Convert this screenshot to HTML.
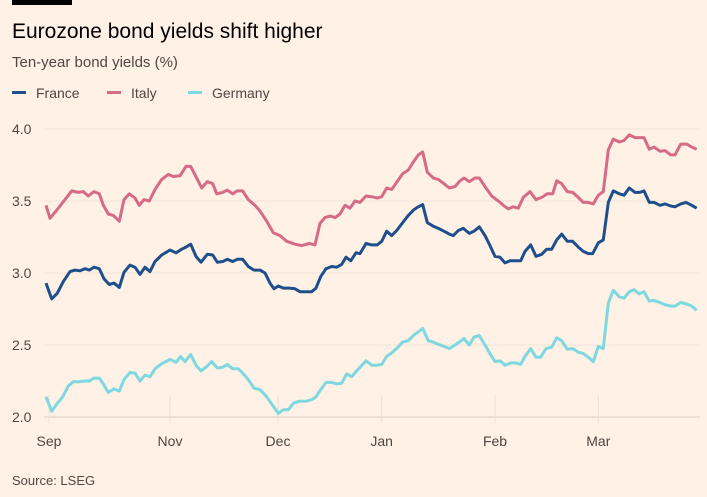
<!DOCTYPE html>
<html><head><meta charset="utf-8"><style>
html,body{margin:0;padding:0;background:#fff1e5;}
body{width:707px;height:492px;overflow:hidden;position:relative;font-family:"Liberation Sans",sans-serif;}
</style></head><body>
<svg width="707" height="492" viewBox="0 0 707 492" id="chart">
<rect x="0" y="0" width="707" height="492" fill="#fff1e5"/>
<rect x="12" y="0" width="60" height="5" fill="#000"/>
<text x="12" y="38" font-size="21" fill="#000">Eurozone bond yields shift higher</text>
<text x="12" y="67" font-size="15" fill="#4d4843">Ten-year bond yields (%)</text>
<g font-size="14" fill="#4d4843">
<g><rect x="12" y="91" width="14" height="3" fill="#1e4f8c"/><text x="36" y="98">France</text></g>
<g><rect x="107" y="91" width="14" height="3" fill="#d66b87"/><text x="131" y="98">Italy</text></g>
<g><rect x="188" y="91" width="14" height="3" fill="#7dd8e0"/><text x="212" y="98">Germany</text></g>
</g>
<g id="grid"></g><g id="lines"></g>
<text x="12" y="485" font-size="13" fill="#4d4843">Source: LSEG</text>
</svg>
<script>
const yTicks=[2.0,2.5,3.0,3.5,4.0];
const xTickLabels=["Sep","Nov","Dec","Jan","Feb","Mar"];
const xTickT=[147,510,834,1145,1485,1795];
const franceT=[138,155,172,190,210,225,240,255,268,282,298,312,328,342,358,372,390,405,420,435,450,465,485,510,528,545,558,572,588,603,622,638,652,668,682,698,712,728,745,762,780,795,810,822,835,850,868,885,900,920,935,948,962,978,995,1010,1025,1038,1052,1068,1080,1098,1115,1132,1145,1160,1175,1190,1208,1225,1242,1255,1268,1282,1300,1315,1332,1348,1360,1375,1390,1408,1422,1438,1455,1470,1485,1500,1515,1530,1545,1562,1575,1592,1608,1625,1640,1655,1670,1685,1702,1718,1735,1750,1765,1778,1795,1810,1825,1840,1858,1872,1888,1905,1920,1932,1948,1962,1980,1995,2012,2025,2042,2058,2075,2090];
const franceV=[2.93,2.82,2.86,2.94,3.01,3.02,3.015,3.03,3.02,3.04,3.03,2.96,2.92,2.93,2.90,3.005,3.055,3.04,2.99,3.04,3.01,3.08,3.125,3.16,3.14,3.165,3.18,3.20,3.115,3.075,3.13,3.125,3.075,3.08,3.095,3.08,3.095,3.095,3.045,3.02,3.02,3.00,2.93,2.89,2.91,2.895,2.895,2.89,2.87,2.87,2.87,2.895,2.975,3.03,3.045,3.04,3.06,3.11,3.085,3.14,3.135,3.205,3.195,3.195,3.22,3.29,3.26,3.295,3.35,3.40,3.44,3.46,3.475,3.35,3.325,3.31,3.29,3.27,3.26,3.295,3.31,3.275,3.29,3.32,3.26,3.19,3.115,3.11,3.07,3.085,3.085,3.085,3.15,3.195,3.115,3.13,3.165,3.165,3.23,3.27,3.22,3.22,3.18,3.15,3.135,3.135,3.21,3.23,3.49,3.57,3.55,3.54,3.59,3.56,3.56,3.57,3.49,3.49,3.47,3.48,3.465,3.46,3.48,3.49,3.47,3.45];
const italyT=[138,150,175,195,215,235,250,265,282,298,310,325,340,358,372,388,405,418,432,448,465,485,505,520,540,558,572,590,605,622,638,650,668,682,698,712,728,745,765,780,800,820,840,860,885,905,928,945,960,975,990,1005,1020,1035,1050,1065,1080,1098,1115,1132,1145,1160,1175,1190,1208,1225,1240,1255,1268,1282,1300,1315,1332,1348,1365,1380,1392,1408,1425,1438,1455,1475,1495,1510,1525,1540,1555,1570,1590,1608,1625,1642,1658,1670,1685,1702,1718,1735,1750,1765,1780,1795,1810,1825,1840,1858,1872,1888,1905,1920,1932,1948,1962,1980,1995,2012,2025,2042,2060,2075,2090];
const italyV=[3.47,3.38,3.45,3.51,3.57,3.56,3.565,3.535,3.565,3.55,3.47,3.41,3.40,3.36,3.51,3.55,3.52,3.47,3.51,3.50,3.58,3.65,3.685,3.67,3.675,3.74,3.74,3.66,3.59,3.635,3.62,3.55,3.56,3.575,3.55,3.57,3.57,3.51,3.47,3.43,3.36,3.28,3.26,3.22,3.20,3.19,3.205,3.195,3.345,3.385,3.395,3.385,3.41,3.47,3.45,3.50,3.49,3.535,3.53,3.52,3.53,3.59,3.58,3.63,3.69,3.715,3.77,3.82,3.84,3.70,3.66,3.65,3.62,3.59,3.60,3.64,3.66,3.635,3.66,3.66,3.60,3.535,3.50,3.47,3.445,3.46,3.45,3.525,3.565,3.51,3.525,3.55,3.55,3.64,3.62,3.565,3.56,3.525,3.49,3.49,3.48,3.54,3.565,3.855,3.93,3.91,3.92,3.96,3.94,3.94,3.94,3.86,3.875,3.845,3.85,3.82,3.82,3.895,3.895,3.875,3.86];
const germanyT=[138,155,172,188,205,220,240,255,268,282,298,310,325,342,358,372,390,405,420,435,450,465,485,510,528,542,555,572,588,603,620,635,652,668,682,698,715,728,745,762,780,800,818,835,850,865,880,898,918,935,948,962,978,995,1010,1025,1040,1055,1070,1098,1115,1132,1145,1160,1175,1192,1208,1225,1242,1255,1268,1285,1300,1315,1332,1348,1362,1378,1392,1408,1422,1438,1455,1470,1485,1500,1515,1532,1548,1562,1575,1592,1608,1622,1638,1655,1670,1685,1702,1718,1735,1750,1765,1780,1795,1810,1825,1840,1858,1872,1888,1902,1918,1932,1948,1962,1980,1995,2012,2025,2042,2060,2075,2090];
const germanyV=[2.14,2.04,2.095,2.14,2.215,2.245,2.245,2.25,2.25,2.27,2.27,2.23,2.17,2.195,2.18,2.26,2.31,2.305,2.25,2.29,2.28,2.335,2.37,2.40,2.38,2.42,2.385,2.435,2.36,2.32,2.35,2.385,2.34,2.345,2.365,2.335,2.335,2.305,2.26,2.20,2.19,2.14,2.08,2.025,2.05,2.05,2.095,2.11,2.11,2.12,2.14,2.19,2.24,2.24,2.23,2.235,2.30,2.28,2.32,2.39,2.36,2.36,2.365,2.42,2.445,2.48,2.52,2.53,2.57,2.59,2.615,2.53,2.52,2.505,2.49,2.475,2.495,2.52,2.545,2.50,2.555,2.565,2.50,2.44,2.385,2.39,2.36,2.375,2.375,2.365,2.42,2.475,2.415,2.415,2.475,2.485,2.55,2.53,2.47,2.475,2.45,2.44,2.415,2.385,2.49,2.475,2.79,2.88,2.835,2.825,2.87,2.885,2.855,2.87,2.805,2.81,2.795,2.78,2.77,2.77,2.795,2.785,2.77,2.74];

const NS="http://www.w3.org/2000/svg";
function xS(t){return t/3;}
function yS(v){return 129+(4-v)*144;}
const grid=document.getElementById('grid'),lines=document.getElementById('lines');
yTicks.forEach(v=>{
  const l=document.createElementNS(NS,'line');
  l.setAttribute('x1',44);l.setAttribute('x2',700);l.setAttribute('y1',yS(v));l.setAttribute('y2',yS(v));
  l.setAttribute('stroke',v===2?'#d9cec4':'#f0e4d8');l.setAttribute('stroke-width',1);
  
  
  grid.appendChild(l);
  const tx=document.createElementNS(NS,'text');
  tx.setAttribute('x',12);tx.setAttribute('y',yS(v)+5);tx.setAttribute('font-size','14');tx.setAttribute('fill','#4d4843');
  tx.textContent=v.toFixed(1);
  
  
  grid.appendChild(tx);
});
xTickT.forEach((t,i)=>{
  const l=document.createElementNS(NS,'line');
  l.setAttribute('x1',xS(t));l.setAttribute('x2',xS(t));l.setAttribute('y1',yS(2)-22);l.setAttribute('y2',yS(2)+6);
  l.setAttribute('stroke','#ece0d4');l.setAttribute('stroke-width',1);
  
  
  grid.appendChild(l);
  const tx=document.createElementNS(NS,'text');
  tx.setAttribute('x',xS(t));tx.setAttribute('y',yS(2)+29);tx.setAttribute('font-size','14');tx.setAttribute('fill','#4d4843');tx.setAttribute('text-anchor','middle');
  tx.textContent=xTickLabels[i];
  
  
  grid.appendChild(tx);
});
function draw(T,V,color,name){
  const p=document.createElementNS(NS,'polyline');
  p.setAttribute('points',T.map((t,i)=>xS(t).toFixed(1)+','+yS(V[i]).toFixed(1)).join(' '));
  p.setAttribute('fill','none');p.setAttribute('stroke',color);p.setAttribute('stroke-width','3');p.setAttribute('stroke-linejoin','round');
  
  
  lines.appendChild(p);
}
draw(germanyT,germanyV,'#7dd8e0','germany-line');
draw(italyT,italyV,'#d66b87','italy-line');
draw(franceT,franceV,'#1e4f8c','france-line');
</script>
</body></html>
